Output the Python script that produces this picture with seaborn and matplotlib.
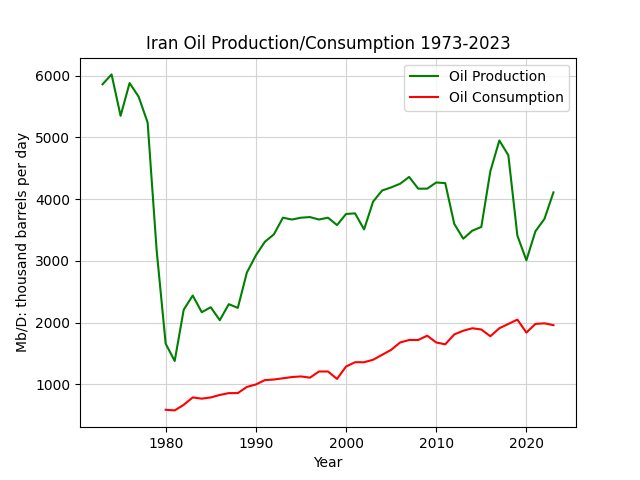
import matplotlib
matplotlib.use("Agg")
import matplotlib.pyplot as plt
import seaborn as sns
import pandas as pd

prod_years = list(range(1973, 2024))
production = [5860, 6020, 5350, 5880, 5660, 5240, 3170, 1660, 1380, 2210,
              2440, 2170, 2250, 2040, 2300, 2240, 2810, 3090, 3310, 3430,
              3700, 3670, 3700, 3710, 3670, 3700, 3580, 3760, 3770, 3510,
              3960, 4140, 4190, 4250, 4360, 4170, 4170, 4270, 4260, 3600,
              3360, 3490, 3550, 4450, 4950, 4710, 3410, 3010, 3480, 3680,
              4110]
cons_years = list(range(1980, 2024))
consumption = [590, 580, 670, 790, 770, 790, 830, 860, 860, 960,
               1000, 1070, 1080, 1100, 1120, 1130, 1110, 1210, 1210, 1090,
               1290, 1360, 1360, 1400, 1480, 1560, 1680, 1720, 1720, 1790,
               1680, 1650, 1810, 1870, 1910, 1890, 1780, 1910, 1980, 2050,
               1840, 1980, 1990, 1960]

df_p = pd.DataFrame({"Year": prod_years, "v": production})
df_c = pd.DataFrame({"Year": cons_years, "v": consumption})

fig, ax = plt.subplots(figsize=(6.4, 4.8), dpi=100)
sns.lineplot(data=df_p, x="Year", y="v", color="green", label="Oil Production", ax=ax)
sns.lineplot(data=df_c, x="Year", y="v", color="red", label="Oil Consumption", ax=ax)
ax.grid(True, color="#d3d3d3", linewidth=0.8)
ax.set_axisbelow(True)
ax.set_title("Iran Oil Production/Consumption 1973-2023")
ax.set_xlabel("Year")
ax.set_ylabel("Mb/D: thousand barrels per day")
ax.legend(loc="upper right")
fig.savefig("out.png", dpi=100)
